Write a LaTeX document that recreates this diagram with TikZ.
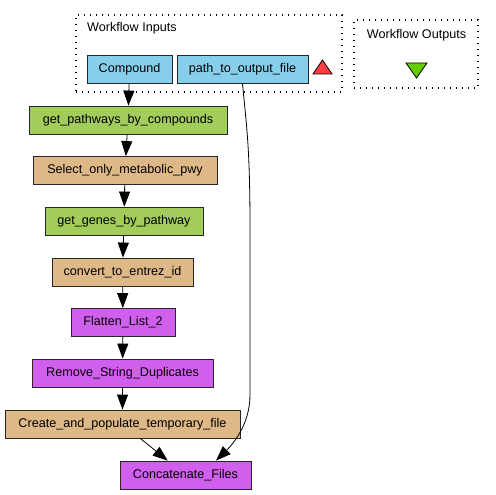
\documentclass[tikz,border=0pt]{standalone}
\usepackage{fontspec}
\setmainfont{Liberation Sans}
\usepackage{xcolor}
\usepackage{tikz}
\usetikzlibrary{arrows.meta, positioning, calc}

\definecolor{inputblue}{HTML}{87CEEB}
\definecolor{wsgreen}{HTML}{A2CD5A}
\definecolor{beantan}{HTML}{DEB887}
\definecolor{localpurple}{HTML}{D15FEE}
\definecolor{portred}{HTML}{FF4040}
\definecolor{portgreen}{HTML}{66CC00}

\begin{document}
\begin{tikzpicture}[
    x=1pt, y=-1pt,
    proc/.style={draw=black!85, line width=0.8pt, text centered, inner sep=0pt,
                 minimum height=28pt, font=\fontsize{12.6}{15}\selectfont},
    cluster/.style={draw=black, line width=1.1pt, dash pattern=on 1.3pt off 4.7pt,
                    inner sep=0pt},
    lbl/.style={font=\fontsize{12.6}{15}\selectfont, inner sep=0pt},
    arrow/.style={-{Triangle[length=15pt,width=11pt]}, line width=0.8pt},
]
  \useasboundingbox (0,0) rectangle (496,495);

  % Clusters
  \node[cluster, minimum width=266pt, minimum height=77pt] (inputs) at (209,53.5) {};
  \node[lbl, anchor=west] (inputslbl) at (87,28) {Workflow Inputs};
  \node[cluster, minimum width=124pt, minimum height=68pt] (outputs) at (416,54) {};
  \node[lbl] (outputslbl) at (416.5,35) {Workflow Outputs};

  % Nodes
  \node[proc, fill=inputblue, minimum width=85pt] (compound) at (129.5,69.5) {Compound};
  \node[proc, fill=inputblue, minimum width=131pt] (outfile) at (242.5,69.5) {path\_to\_output\_file};
  \node[proc, fill=wsgreen, minimum width=198pt] (getpwy) at (128,120) {get\_pathways\_by\_compounds};
  \node[proc, fill=beantan, minimum width=184pt] (selpwy) at (125,170.5) {Select\_only\_metabolic\_pwy};
  \node[proc, fill=wsgreen, minimum width=158pt] (getgenes) at (124,221) {get\_genes\_by\_pathway};
  \node[proc, fill=beantan, minimum width=141pt] (entrez) at (122.5,272) {convert\_to\_entrez\_id};
  \node[proc, fill=localpurple, minimum width=104pt] (flatten) at (123,322.5) {Flatten\_List\_2};
  \node[proc, fill=localpurple, minimum width=181pt] (dedup) at (122.5,373) {Remove\_String\_Duplicates};
  \node[proc, fill=beantan, minimum width=235pt] (tmpfile) at (122.5,424) {Create\_and\_populate\_temporary\_file};
  \node[proc, fill=localpurple, minimum width=131pt] (concat) at (185.5,475) {Concatenate\_Files};

  % Port markers
  \draw[fill=portred, line width=0.8pt] (313,74) -- (332,74) -- (322.5,60) -- cycle;
  \draw[fill=portgreen, line width=0.8pt] (406,63) -- (427,63) -- (416.5,78) -- cycle;

  % Arrows
  \draw[arrow] (compound) -- (getpwy);
  \draw[arrow] (getpwy) -- (selpwy);
  \draw[arrow] (selpwy) -- (getgenes);
  \draw[arrow] (getgenes) -- (entrez);
  \draw[arrow] (entrez) -- (flatten);
  \draw[arrow] (flatten) -- (dedup);
  \draw[arrow] (dedup) -- (tmpfile);
  \draw[arrow] (tmpfile) -- (concat);
  \draw[arrow] (outfile.south) .. controls (247,130) and (250,150) .. (250,230)
      -- (250,395) .. controls (250,425) and (232,445) .. ([xshift=30.5pt]concat.north);
\end{tikzpicture}
\end{document}
